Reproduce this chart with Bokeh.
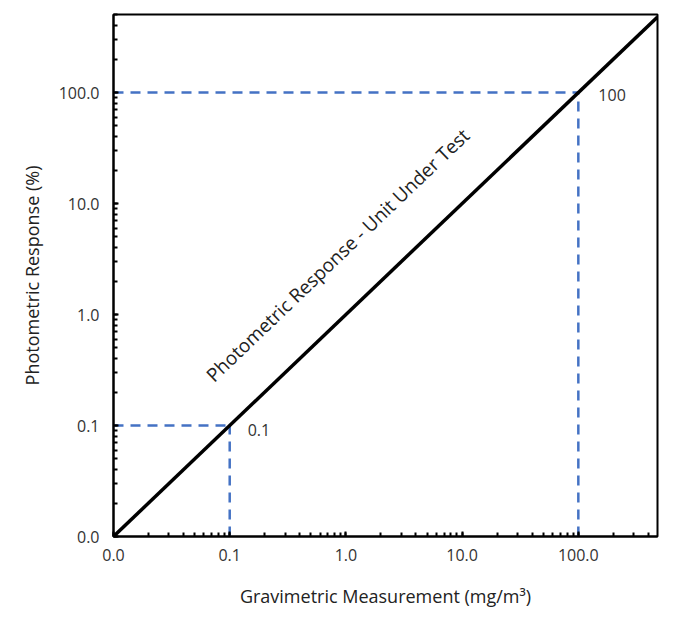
from bokeh.plotting import figure
from bokeh.models import LogTicker, CustomJSTickFormatter, Label
from bokeh.embed import file_html
from bokeh.resources import INLINE

x_line = [0.01, 480]
y_line = [0.01, 480]
ref_points = [0.1, 100]
ref_labels = ["0.1", "100"]
x_min, x_max = 0.01, 480
y_min, y_max = 0.01, 505

p = figure(width=660, height=610, x_axis_type="log", y_axis_type="log",
           x_range=(x_min, x_max), y_range=(y_min, y_max),
           output_backend="svg", toolbar_location=None,
           min_border_left=113, min_border_right=3, min_border_top=14, min_border_bottom=74)
p.grid.visible = False
p.outline_line_color = "black"
p.outline_line_width = 2
p.background_fill_color = "white"

fmt = CustomJSTickFormatter(code="return tick < 0.05 ? '0.0' : tick.toFixed(1);")
for ax in (p.xaxis[0], p.yaxis[0]):
    ax.ticker = LogTicker(desired_num_ticks=6, num_minor_ticks=10)
    ax.formatter = fmt
    ax.axis_line_color = "black"
    ax.axis_line_width = 2
    ax.major_tick_in = 5
    ax.major_tick_out = 0
    ax.minor_tick_in = 4
    ax.minor_tick_out = 0
    ax.major_tick_line_width = 2
    ax.minor_tick_line_width = 2
    ax.major_label_text_font = "Open Sans"
    ax.major_label_text_font_size = "16px"
    ax.major_label_text_color = "#333333"
    ax.axis_label_text_font = "Open Sans"
    ax.axis_label_text_font_size = "18px"
    ax.axis_label_text_font_style = "normal"
    ax.axis_label_text_color = "#222222"
p.xaxis.major_label_standoff = 12
p.yaxis.major_label_standoff = 14
p.xaxis.axis_label_standoff = 20
p.yaxis.axis_label_standoff = 12
p.xaxis.axis_label = "Gravimetric Measurement (mg/m³)"
p.yaxis.axis_label = "Photometric Response (%)"

for v in ref_points:
    p.line([x_min, v], [v, v], line_color="#4472C4", line_width=2.5, line_dash="10 7")
    p.line([v, v], [y_min, v], line_color="#4472C4", line_width=2.5, line_dash="10 7")

p.line(x_line, y_line, line_color="black", line_width=3.5)

p.add_layout(Label(x=ref_points[0], y=ref_points[0], text=ref_labels[0], x_offset=18, y_offset=-10,
                   text_font="Open Sans", text_font_size="16px", text_color="#333333"))
p.add_layout(Label(x=ref_points[1], y=ref_points[1], text=ref_labels[1], x_offset=20, y_offset=-8,
                   text_font="Open Sans", text_font_size="16px", text_color="#333333"))
p.add_layout(Label(x=0.08, y=0.22, text="Photometric Response - Unit Under Test",
                   angle=43.8, angle_units="deg",
                   text_font="Open Sans", text_font_size="19px", text_color="#222222"))

open("out.html", "w").write(file_html(p, INLINE))
